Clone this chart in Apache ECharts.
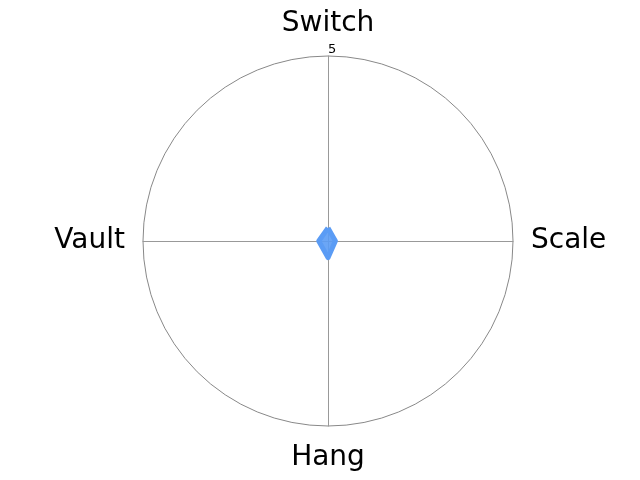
<!DOCTYPE html>
<html><head><meta charset="utf-8">
<script src="https://cdn.jsdelivr.net/npm/echarts@6/dist/echarts.min.js"></script>
<style>html,body{margin:0;padding:0;background:#fff}#c{width:640px;height:480px}</style>
</head><body><div id="c"></div>
<script>
var indicators = ['Switch', 'Vault', 'Hang', 'Scale'];
var values = [0.35, 0.25, 0.45, 0.2];
var maxValue = 5;

var chart = echarts.init(document.getElementById('c'));
chart.setOption({
  animation: false,
  radar: {
    center: [328, 241],
    radius: 185,
    shape: 'circle',
    startAngle: 90,
    splitNumber: 1,
    indicator: indicators.map(function (n) { return { name: n, max: maxValue }; }),
    axisName: { color: '#000', fontSize: 28, fontFamily: 'DejaVu Sans' },
    nameGap: 18,
    axisLine: { lineStyle: { color: '#999', width: 1 } },
    splitLine: { lineStyle: { color: '#888', width: 1 } },
    splitArea: { show: false }
  },
  graphic: [{
    type: 'text', left: 328, top: 43,
    style: { text: '5', fontSize: 13, fill: '#000', fontFamily: 'DejaVu Sans' }
  }],
  series: [{
    type: 'radar',
    symbol: 'none',
    lineStyle: { color: '#5b9cf5', width: 5 },
    areaStyle: { color: '#5b9cf5', opacity: 0.9 },
    data: [{ value: values }]
  }]
});
</script></body></html>
